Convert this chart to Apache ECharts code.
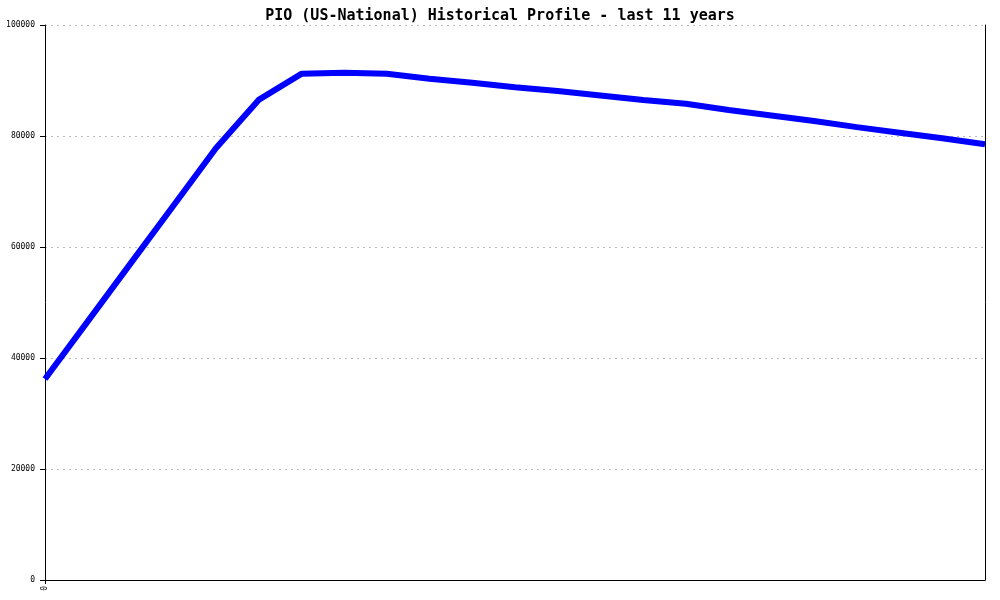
<!DOCTYPE html>
<html>
<head>
<meta charset="utf-8">
<script src="https://cdn.jsdelivr.net/npm/echarts@6/dist/echarts.min.js"></script>
<style>
  html, body { margin: 0; padding: 0; background: #fff; }
  #chart { width: 1000px; height: 600px; }
</style>
</head>
<body>
<div id="chart"></div>
<script>
// half-year steps over the 11 years, only the first one carries a label
const periodLabels = ['0', '', '', '', '', '', '', '', '', '', '', '',
  '', '', '', '', '', '', '', '', '', '', ''];
// values
const pioValues = [36200, 46600, 57000, 67400, 77800, 86500, 91200, 91400,
  91200, 90300, 89600, 88800, 88100, 87300, 86500, 85800, 84700, 83700,
  82700, 81600, 80600, 79600, 78500];
const yTicks = { min: 0, max: 100000, interval: 20000 };

const chart = echarts.init(document.getElementById('chart'));

const monoFont = '"DejaVu Sans Mono", "Liberation Mono", monospace';

const option = {
  backgroundColor: '#ffffff',
  animation: false,
  title: {
    text: 'PIO (US-National) Historical Profile - last 11 years',
    left: 'center',
    top: 4,
    textStyle: {
      fontFamily: monoFont,
      fontSize: 15,
      fontWeight: 'bold',
      color: '#000'
    }
  },
  grid: { left: 45, right: 15, top: 25, bottom: 20 },
  xAxis: {
    type: 'category',
    data: periodLabels,
    boundaryGap: false,
    axisLine: { lineStyle: { color: '#000', width: 1 } },
    axisTick: {
      show: true,
      length: 4,
      interval: function (i) { return i === 0; },
      lineStyle: { color: '#000' }
    },
    axisLabel: {
      interval: 0,
      rotate: 90,
      margin: 6,
      fontFamily: monoFont,
      fontSize: 8,
      color: '#000'
    },
    splitLine: { show: false }
  },
  yAxis: [
    {
      type: 'value',
      min: yTicks.min,
      max: yTicks.max,
      interval: yTicks.interval,
      axisLine: { show: true, lineStyle: { color: '#000', width: 1 } },
      axisTick: { show: true, length: 5, lineStyle: { color: '#000' } },
      axisLabel: {
        margin: 10,
        fontFamily: monoFont,
        fontSize: 8,
        color: '#000',
        formatter: function (v) { return String(v); }
      },
      splitLine: {
        show: true,
        lineStyle: { color: '#bbbbbb', type: [2, 4], width: 1 }
      }
    },
    {
      type: 'value',
      position: 'right',
      min: yTicks.min,
      max: yTicks.max,
      interval: yTicks.interval,
      axisLine: { show: true, lineStyle: { color: '#000', width: 1 } },
      axisTick: { show: false },
      axisLabel: { show: false },
      splitLine: { show: false }
    }
  ],
  series: [
    {
      name: 'PIO',
      type: 'line',
      data: pioValues,
      showSymbol: false,
      symbol: 'none',
      lineStyle: { color: '#0000ff', width: 6 },
      z: 3
    }
  ]
};

chart.setOption(option);
</script>
</body>
</html>
